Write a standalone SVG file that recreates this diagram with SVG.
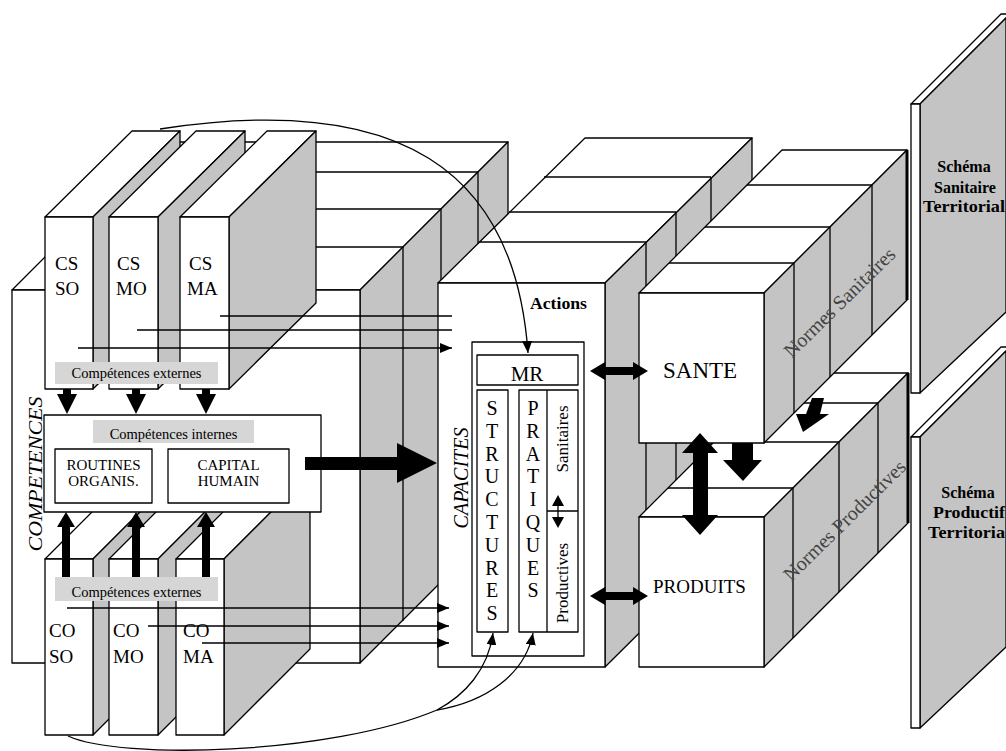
<svg xmlns="http://www.w3.org/2000/svg" width="1006" height="751" viewBox="0 0 1006 751">
<defs>
<style>
.w{fill:#fff;stroke:#000;stroke-width:1.3;stroke-linejoin:round}
.g{fill:#c4c4c4;stroke:#000;stroke-width:1.3;stroke-linejoin:round}
.l{fill:#d6d6d6;stroke:none}
.ln{fill:none;stroke:#000;stroke-width:1.3}
.big{fill:#000;stroke:none}
.t{font-family:"Liberation Serif","Times New Roman",serif;fill:#000}
.b{font-weight:bold}
.i{font-style:italic}
.n{fill:#444}
.edge{stroke:#000;stroke-width:3;fill:none}
</style>
<marker id="ah" viewBox="0 0 12 10" markerWidth="12" markerHeight="10" refX="12" refY="5" orient="auto" markerUnits="userSpaceOnUse"><path d="M0,0 L12,5 L0,10 z" fill="#000"/></marker>
</defs>
<rect width="1006" height="751" fill="#fff"/>

<g id="competences">
<polygon class="w" points="12,290 360,290 508,142 160,142"/>
<polygon class="g" points="360,290 508,142 508,515 360,663"/>
<rect class="w" x="12" y="290" width="348" height="373"/>
<path class="ln" d="M55,247H403M93,209H441M130,172H478M403,247V621M441,209V583M478,172V546"/>
<text class="t i" font-size="18" transform="translate(36,474) rotate(-90)" text-anchor="middle" y="6" textLength="155" lengthAdjust="spacingAndGlyphs">COMPETENCES</text>
</g>

<g id="cs-so">
<polygon class="w" points="45,217 132,131 180,131 93,217"/>
<polygon class="g" points="93,217 180,131 180,303 93,389"/>
<rect class="w" x="45" y="217" width="48" height="172"/>
<text class="t" font-size="19" x="55" y="270">CS</text>
<text class="t" font-size="19" x="55" y="295">SO</text>
</g>
<g id="cs-mo">
<polygon class="w" points="109,217 196,131 245,131 158,217"/>
<polygon class="g" points="158,217 245,131 245,303 158,389"/>
<rect class="w" x="109" y="217" width="49" height="172"/>
<text class="t" font-size="19" x="117" y="270">CS</text>
<text class="t" font-size="19" x="116" y="295">MO</text>
</g>
<g id="cs-ma">
<polygon class="w" points="180,217 267,131 316,131 229,217"/>
<polygon class="g" points="229,217 316,131 316,303 229,389"/>
<rect class="w" x="180" y="217" width="49" height="172"/>
<text class="t" font-size="19" x="189" y="270">CS</text>
<text class="t" font-size="19" x="187" y="295">MA</text>
</g>
<g id="ext-top">
<rect class="l" x="55" y="362" width="163" height="22"/>
<text class="t" font-size="14.5" x="136.5" y="378" text-anchor="middle">Compétences externes</text>
</g>

<g id="co-so">
<polygon class="w" points="45,559 131,473 179,473 93,559"/>
<polygon class="g" points="93,559 179,473 179,649 93,735"/>
<rect class="w" x="45" y="559" width="48" height="176"/>
<text class="t" font-size="19" x="49" y="637">CO</text>
<text class="t" font-size="19" x="49" y="663">SO</text>
</g>
<g id="co-mo">
<polygon class="w" points="109,559 195,473 244,473 158,559"/>
<polygon class="g" points="158,559 244,473 244,649 158,735"/>
<rect class="w" x="109" y="559" width="49" height="176"/>
<text class="t" font-size="19" x="113" y="637">CO</text>
<text class="t" font-size="19" x="113" y="663">MO</text>
</g>
<g id="co-ma">
<polygon class="w" points="176,559 262,473 310,473 224,559"/>
<polygon class="g" points="224,559 310,473 310,649 224,735"/>
<rect class="w" x="176" y="559" width="48" height="176"/>
<text class="t" font-size="19" x="183" y="637">CO</text>
<text class="t" font-size="19" x="183" y="663">MA</text>
</g>
<g id="ext-bottom">
<rect class="l" x="55" y="577" width="163" height="24"/>
<text class="t" font-size="14.5" x="136.5" y="597" text-anchor="middle">Compétences externes</text>
</g>

<g id="internes">
<rect class="w" x="44" y="415" width="277" height="97"/>
<rect class="l" x="93" y="420" width="161" height="23"/>
<text class="t" font-size="14.5" x="173.5" y="439" text-anchor="middle">Compétences internes</text>
<rect class="w" x="55" y="449" width="97" height="54"/>
<text class="t" font-size="15" x="103.5" y="470" text-anchor="middle">ROUTINES</text>
<text class="t" font-size="15" x="103.5" y="486" text-anchor="middle">ORGANIS.</text>
<rect class="w" x="168" y="449" width="121" height="54"/>
<text class="t" font-size="15" x="228.5" y="470" text-anchor="middle">CAPITAL</text>
<text class="t" font-size="15" x="228.5" y="486" text-anchor="middle">HUMAIN</text>
</g>

<g id="capacites">
<polygon class="w" points="438,283 605,283 752,138 585,138"/>
<polygon class="g" points="605,283 752,138 752,521 605,667"/>
<rect class="w" x="438" y="283" width="167" height="384"/>
<path class="ln" d="M479,242H646M509,212H676M544,177H711M646,242V626M676,212V596M711,177V561"/>
<text class="t i" font-size="20" transform="translate(462,478) rotate(-90)" text-anchor="middle" y="6">CAPACITES</text>
<text class="t b" font-size="16" x="530" y="309" textLength="57" lengthAdjust="spacingAndGlyphs">Actions</text>
<rect class="w" x="472" y="342" width="112" height="314"/>
<rect class="w" x="477" y="355" width="101" height="30"/>
<text class="t" font-size="21" x="527" y="381" text-anchor="middle">MR</text>
<rect class="w" x="477" y="390" width="31" height="242"/>
<rect class="w" x="519" y="390" width="59" height="242"/>
<path class="ln" d="M547,390V632M547,511H578"/>
<text class="t" font-size="20" text-anchor="middle"><tspan x="492" y="415">S</tspan><tspan x="492" y="438">T</tspan><tspan x="492" y="461">R</tspan><tspan x="492" y="483">U</tspan><tspan x="492" y="506">C</tspan><tspan x="492" y="529">T</tspan><tspan x="492" y="552">U</tspan><tspan x="492" y="575">R</tspan><tspan x="492" y="597">E</tspan><tspan x="492" y="620">S</tspan></text>
<text class="t" font-size="20" text-anchor="middle"><tspan x="533" y="415">P</tspan><tspan x="533" y="438">R</tspan><tspan x="533" y="461">A</tspan><tspan x="533" y="483">T</tspan><tspan x="533" y="506">I</tspan><tspan x="533" y="529">Q</tspan><tspan x="533" y="552">U</tspan><tspan x="533" y="575">E</tspan><tspan x="533" y="597">S</tspan></text>
<text class="t" font-size="17" transform="translate(562,439) rotate(-90)" text-anchor="middle" y="6">Sanitaires</text>
<text class="t" font-size="17" transform="translate(562,583) rotate(-90)" text-anchor="middle" y="6">Productives</text>
</g>

<g id="produits">
<polygon class="w" points="639,517 764,517 908,373 783,373"/>
<polygon class="g" points="764,517 908,373 908,523 764,667"/>
<rect class="w" x="639" y="517" width="125" height="150"/>
<path class="ln" d="M668,488H793M714,442H839M753,403H878M793,488V638M839,442V592M878,403V553"/>
<path class="edge" d="M908,373V523"/>
<text class="t" font-size="19" x="653" y="593">PRODUITS</text>
<text class="t n" font-size="20" transform="translate(845,521) rotate(-44.5)" text-anchor="middle" y="6">Normes Productives</text>
</g>

<g id="sante">
<polygon class="w" points="639,293 764,293 907,150 782,150"/>
<polygon class="g" points="764,293 907,150 907,300 764,443"/>
<rect class="w" x="639" y="293" width="125" height="150"/>
<path class="ln" d="M669,263H794M705,227H830M747,185H872M794,263V413M830,227V377M872,185V335"/>
<path class="edge" d="M907,150V300"/>
<text class="t" font-size="23" x="663" y="378">SANTE</text>
<text class="t n" font-size="20" transform="translate(840,303) rotate(-44.5)" text-anchor="middle" y="6">Normes Sanitaires</text>
</g>

<g id="schema-sanitaire">
<polygon class="w" points="911,104 920,104 1010,14 1001,14"/>
<polygon class="g" points="920,104 1006,18 1006,312 920,393"/>
<rect class="w" x="911" y="104" width="9" height="289"/>
<text class="t b" font-size="16" x="964" y="172" text-anchor="middle">Schéma</text>
<text class="t b" font-size="16" x="965" y="193" text-anchor="middle">Sanitaire</text>
<text class="t b" font-size="16" x="964" y="212" text-anchor="middle" textLength="82" lengthAdjust="spacingAndGlyphs">Territorial</text>
</g>

<g id="schema-productif">
<polygon class="w" points="911,437 920,437 1010,347 1001,347"/>
<polygon class="g" points="920,437 1006,351 1006,647 920,728"/>
<rect class="w" x="911" y="437" width="9" height="291"/>
<text class="t b" font-size="16" x="968" y="498" text-anchor="middle">Schéma</text>
<text class="t b" font-size="16" x="933" y="518" textLength="72" lengthAdjust="spacingAndGlyphs">Productif</text>
<text class="t b" font-size="16" x="928" y="538" textLength="77" lengthAdjust="spacingAndGlyphs">Territoria</text>
</g>

<g id="connectors">
<path class="ln" marker-end="url(#ah)" d="M220,316H452M137,330H452M78,348H452"/>
<path class="ln" marker-end="url(#ah)" d="M67,608H449"/>
<path class="ln" marker-end="url(#ah)" d="M148,626H449"/>
<path class="ln" marker-end="url(#ah)" d="M202,643H449"/>
<path class="ln" marker-end="url(#ah)" d="M160,129C400,92 515,170 528,353"/>
<path class="ln" d="M68,736C120,760 330,755 437,710"/>
<path class="ln" marker-end="url(#ah)" d="M437,710C465,695 488,670 493,633"/>
<path class="ln" marker-end="url(#ah)" d="M437,710C485,702 525,675 533,633"/>
<polygon class="big" points="63,389 71,389 71,394 77,394 67,414 57,394 63,394"/>
<polygon class="big" points="132,389 140,389 140,394 146,394 136,414 126,394 132,394"/>
<polygon class="big" points="202,389 210,389 210,394 216,394 206,414 196,394 202,394"/>
<polygon class="big" points="66,512 75,527 70,527 70,577 62,577 62,527 57,527"/>
<polygon class="big" points="136,512 145,527 140,527 140,577 132,577 132,527 127,527"/>
<polygon class="big" points="206,512 215,527 210,527 210,577 202,577 202,527 197,527"/>
<polygon class="big" points="305,457 397,457 397,443 437,463 397,483 397,470 305,470"/>
<polygon class="big" points="590,371 605,362 605,367 633,367 633,362 648,371 633,380 633,375 605,375 605,380"/>
<polygon class="big" points="590,596 605,587 605,592 633,592 633,587 648,596 633,605 633,600 605,600 605,605"/>
<polygon class="big" points="700,433 718,453 708,453 708,515 718,515 700,535 682,515 693,515 693,453 682,453"/>
<polygon class="big" points="732,443 753,443 753,460 762,460 743,481 723,460 732,460"/>
<polygon class="big" points="812,398 824,398 820,414 829,414 803,432 796,414 806,414"/>
<path class="ln" d="M558,505V518"/>
<polygon class="big" points="558,495 564,506 552,506"/>
<polygon class="big" points="558,528 564,517 552,517"/>
</g>
</svg>
